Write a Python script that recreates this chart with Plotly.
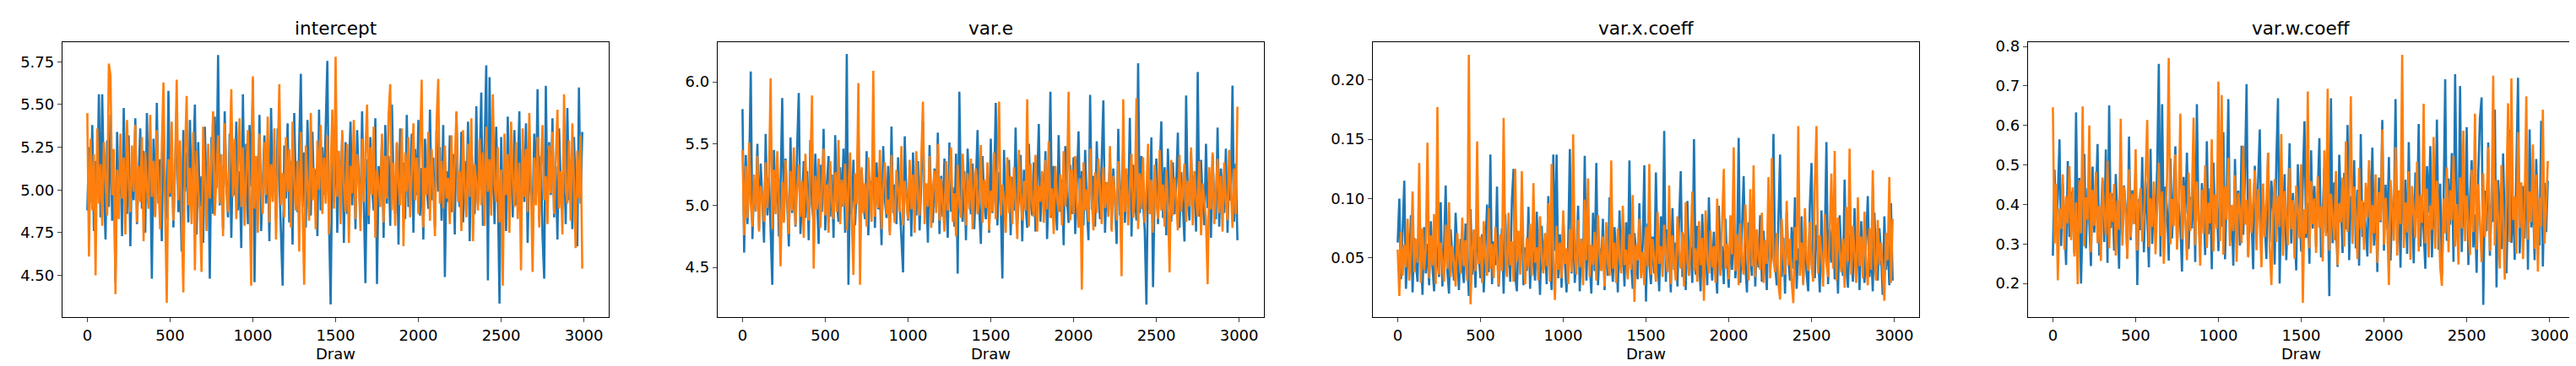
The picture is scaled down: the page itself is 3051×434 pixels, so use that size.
import plotly.graph_objects as go
from plotly.subplots import make_subplots

# thinned draw index (every 10th draw of 3000)
draws = list(range(0, 3000, 10))

params = ["intercept", "var.e", "var.x.coeff", "var.w.coeff"]

# --- intercept ---
intercept_c1 = [
    4.88, 5.25, 4.93, 5.38, 4.76, 5.17, 4.98, 5.56, 4.84, 5.56, 5.04, 4.71, 5.29, 4.90, 5.44, 4.82, 5.13, 4.46, 5.34, 4.95,
    5.21, 4.73, 5.48, 5.00, 4.86, 5.32, 4.67, 5.19, 4.94, 5.42, 4.80, 5.10, 5.36, 4.89, 5.23, 4.75, 5.45, 4.97, 5.15, 4.48,
    5.30, 4.85, 5.51, 4.92, 5.18, 4.70, 5.39, 5.02, 4.83, 5.58, 4.96, 5.26, 4.78, 5.12, 5.47, 4.87, 5.05, 4.64, 5.35, 4.99,
    5.22, 4.81, 5.41, 4.93, 5.16, 5.50, 4.74, 5.28, 4.90, 5.08, 4.69, 5.37, 4.95, 5.20, 4.48, 5.31, 4.86, 5.43, 5.01, 5.79,
    4.91, 5.14, 4.77, 5.46, 5.03, 4.84, 5.33, 4.72, 5.24, 4.97, 5.40, 4.88, 5.11, 4.66, 5.56, 4.94, 5.27, 4.80, 5.38, 5.02,
    5.645, 4.46, 5.19, 4.89, 5.44, 4.76, 5.09, 5.32, 4.92, 5.21, 4.70, 5.48, 4.99, 5.13, 4.83, 5.36, 5.05, 4.74, 4.44, 5.26,
    4.95, 5.39, 4.81, 5.17, 4.68, 5.45, 5.00, 4.87, 5.30, 5.68, 4.90, 5.22, 4.78, 5.41, 5.04, 4.85, 5.34, 4.96, 5.12, 4.73,
    5.47, 4.88, 5.25, 4.97, 5.37, 5.755, 4.82, 4.33, 5.20, 4.93, 5.43, 4.75, 5.15, 4.99, 5.32, 4.69, 5.28, 4.86, 5.10, 5.40,
    4.91, 5.23, 4.77, 5.35, 5.06, 4.84, 5.46, 4.94, 4.455, 5.18, 4.80, 5.31, 5.01, 4.88, 5.42, 4.45, 5.14, 4.96, 5.29, 4.72,
    5.38, 4.92, 5.20, 4.79, 5.50, 5.03, 4.86, 5.27, 4.68, 5.36, 4.98, 5.16, 4.83, 5.44, 4.90, 5.09, 5.33, 4.75, 5.24, 4.97,
    5.41, 4.85, 5.13, 4.71, 5.30, 5.02, 4.89, 5.47, 4.94, 5.19, 4.78, 5.35, 4.99, 5.25, 4.82, 5.38, 4.49, 5.11, 4.93, 5.32,
    4.87, 5.21, 4.74, 5.45, 5.00, 4.90, 5.34, 4.81, 5.17, 4.96, 5.40, 4.70, 5.28, 5.04, 4.86, 5.49, 4.92, 5.15, 5.57, 4.79,
    5.26, 5.73, 4.47, 5.66, 4.95, 5.20, 4.80, 5.37, 5.01, 4.335, 5.31, 4.88, 5.13, 4.76, 5.43, 4.97, 5.22, 4.84, 5.35, 4.91,
    5.09, 5.46, 4.78, 5.24, 4.93, 5.39, 4.69, 5.16, 5.00, 4.86, 5.33, 4.95, 5.59, 4.82, 5.20, 4.73, 4.48, 5.61, 4.90, 5.28,
    4.97, 5.42, 4.84, 5.14, 4.71, 5.36, 5.03, 4.89, 5.25, 4.80, 5.48, 4.94, 5.18, 4.77, 5.31, 5.01, 4.67, 5.60, 4.92, 5.34,
]
intercept_c2 = [
    5.45, 4.61, 5.30, 4.88, 5.21, 4.50, 5.36, 4.92, 5.15, 4.79, 5.28, 5.02, 4.85, 5.74, 5.67, 4.97, 5.24, 4.39, 5.12, 4.83,
    5.33, 4.95, 5.19, 4.74, 5.41, 5.06, 4.87, 5.26, 4.99, 5.38, 4.81, 5.14, 4.93, 5.31, 4.70, 5.22, 5.01, 4.89, 5.44, 4.96,
    5.17, 4.84, 5.35, 5.03, 4.77, 5.25, 5.63, 4.90, 4.34, 5.18, 4.98, 5.40, 4.82, 5.11, 5.645, 4.94, 5.29, 4.86, 4.40, 5.20,
    5.55, 4.91, 5.13, 4.80, 5.34, 4.53, 5.23, 5.00, 4.88, 4.52, 5.37, 5.07, 4.76, 5.27, 4.95, 5.16, 5.46, 4.85, 5.09, 5.32,
    4.92, 5.21, 4.73, 5.39, 5.04, 4.87, 5.18, 5.59, 4.96, 5.30, 4.83, 5.12, 5.42, 4.90, 5.25, 4.79, 5.06, 5.35, 4.98, 4.44,
    5.665, 4.89, 5.20, 4.75, 5.33, 5.02, 4.86, 5.28, 4.97, 5.43, 4.81, 5.15, 4.93, 5.36, 4.71, 5.22, 5.62, 4.91, 5.10, 4.84,
    5.31, 4.99, 5.24, 4.78, 5.40, 5.05, 4.88, 5.17, 4.64, 5.34, 4.95, 4.445, 5.26, 5.01, 4.82, 5.45, 4.94, 5.13, 4.77, 5.29,
    5.00, 5.38, 4.86, 5.19, 4.92, 5.32, 4.74, 5.11, 5.47, 4.89, 5.78, 4.96, 5.23, 4.80, 5.35, 5.03, 4.87, 5.27, 4.69, 5.14,
    4.98, 5.41, 4.83, 5.21, 5.06, 4.76, 5.30, 4.93, 5.18, 5.50, 4.85, 5.25, 4.97, 5.37, 4.72, 5.12, 5.02, 4.90, 5.33, 4.81,
    5.20, 4.95, 5.44, 5.62, 4.88, 5.16, 4.79, 5.28, 5.04, 4.91, 5.36, 4.67, 5.22, 4.99, 5.31, 4.84, 5.10, 5.39, 4.94, 5.19,
    4.86, 5.29, 5.645, 4.78, 5.13, 4.97, 5.34, 4.82, 5.24, 5.01, 4.73, 5.40, 5.65, 4.92, 5.17, 4.89, 5.26, 4.95, 5.07, 4.80,
    5.32, 4.87, 5.20, 5.46, 4.93, 5.11, 4.76, 5.35, 5.00, 4.84, 5.27, 4.96, 5.42, 4.70, 5.15, 5.04, 4.88, 5.30, 4.91, 5.22,
    4.79, 5.37, 4.99, 5.18, 4.85, 5.56, 5.03, 4.93, 5.25, 4.81, 5.12, 4.44, 5.33, 4.97, 5.21, 4.75, 5.40, 5.06, 4.90, 5.28,
    4.83, 5.16, 4.53, 5.36, 4.96, 5.24, 4.87, 5.45, 5.02, 4.52, 5.19, 4.91, 5.31, 4.78, 5.13, 5.38, 4.94, 5.08, 4.80, 5.26,
    4.98, 5.34, 4.86, 5.20, 5.47, 4.89, 5.11, 4.74, 5.56, 5.00, 4.92, 5.29, 4.82, 5.39, 5.05, 4.66, 5.23, 4.95, 5.32, 4.54,
]

# --- var.e ---
var_e_c1 = [
    5.78, 4.62, 5.41, 4.85, 5.27, 6.085, 4.73, 5.19, 4.96, 5.50, 4.81, 5.34, 5.04, 4.70, 5.58, 4.92, 5.23, 4.79, 4.36, 5.45,
    4.98, 5.30, 4.75, 5.16, 5.87, 4.88, 5.38, 5.02, 4.67, 5.55, 4.94, 5.21, 4.83, 5.47, 5.91, 4.77, 5.12, 5.36, 4.90, 5.28,
    4.72, 5.53, 5.00, 4.86, 5.42, 5.08, 4.69, 5.33, 4.95, 5.62, 4.80, 5.18, 5.40, 4.91, 5.25, 4.74, 5.57, 5.03, 4.87, 5.31,
    4.99, 5.46, 4.78, 6.225, 4.36, 5.22, 4.93, 5.37, 4.84, 5.14, 5.60, 4.71, 5.29, 5.01, 4.89, 5.44, 4.76, 5.20, 5.06, 5.52,
    4.82, 5.35, 4.97, 5.11, 4.68, 5.48, 5.05, 4.90, 5.32, 4.79, 5.64, 4.94, 5.17, 4.85, 5.39, 5.00, 4.73, 4.46, 5.56, 5.09,
    4.88, 5.26, 4.75, 5.43, 5.02, 4.92, 5.36, 4.80, 5.19, 5.68, 4.96, 5.13, 4.70, 5.49, 5.04, 4.86, 5.30, 4.98, 5.59, 4.77,
    5.24, 4.91, 5.38, 5.07, 4.74, 5.51, 4.95, 5.15, 4.83, 5.42, 4.45, 5.92, 5.01, 4.87, 5.28, 4.72, 5.46, 5.10, 4.93, 5.34,
    4.81, 5.20, 5.61, 4.97, 4.69, 5.40, 5.03, 4.89, 5.31, 4.78, 5.54, 4.94, 5.16, 5.83, 4.84, 5.27, 5.00, 4.41, 5.45, 4.90,
    5.12, 5.37, 4.76, 5.23, 4.96, 5.63, 4.85, 5.08, 5.41, 4.71, 5.29, 4.99, 4.82, 5.50, 5.05, 4.92, 5.35, 4.79, 5.18, 5.66,
    4.87, 5.26, 4.98, 5.44, 4.73, 5.14, 5.92, 4.90, 5.32, 5.02, 4.80, 5.57, 4.95, 5.21, 4.68, 5.48, 5.06, 4.86, 5.33, 4.93,
    5.39, 4.77, 5.17, 5.60, 4.91, 5.28, 4.84, 5.45, 5.00, 4.72, 5.895, 4.97, 5.24, 4.83, 5.52, 5.09, 4.89, 5.36, 5.85, 4.78,
    5.19, 4.95, 5.42, 4.81, 5.30, 5.04, 4.69, 5.62, 4.92, 5.15, 5.47, 4.86, 5.25, 4.99, 5.71, 4.75, 5.33, 5.07, 4.88, 6.15,
    4.94, 5.40, 5.02, 4.80, 4.20, 5.29, 4.97, 5.55, 4.34, 5.12, 5.38, 4.85, 5.22, 5.68, 4.90, 5.31, 4.76, 5.46, 5.03, 4.87,
    5.35, 4.93, 5.18, 5.59, 4.82, 5.27, 5.00, 4.71, 5.89, 5.08, 4.88, 5.43, 4.96, 5.24, 4.79, 6.08, 4.91, 5.37, 5.05, 4.84,
    5.50, 4.98, 5.21, 4.74, 5.41, 5.01, 4.89, 5.63, 4.83, 5.30, 5.10, 4.94, 5.46, 4.78, 5.26, 5.04, 5.97, 4.87, 5.34, 4.72,
]
var_e_c2 = [
    5.45, 4.76, 5.32, 4.90, 5.51, 5.02, 4.83, 5.25, 4.95, 5.40, 4.79, 5.16, 5.06, 4.87, 5.35, 4.98, 5.22, 6.03, 4.81, 5.29,
    4.93, 5.44, 5.04, 4.51, 5.19, 4.86, 5.37, 5.00, 4.77, 5.28, 4.96, 5.47, 4.84, 5.13, 5.33, 4.91, 5.20, 4.74, 5.42, 5.05,
    4.88, 5.30, 5.89, 4.49, 5.24, 4.97, 5.38, 4.82, 5.11, 5.46, 4.92, 5.17, 4.78, 5.36, 5.03, 4.89, 5.27, 4.95, 5.53, 4.85,
    5.21, 4.99, 5.34, 4.80, 5.14, 5.43, 4.90, 4.44, 5.26, 5.01, 5.99, 4.36, 5.31, 4.94, 5.18, 4.83, 5.39, 5.07, 4.87, 6.09,
    4.91, 5.23, 4.98, 5.45, 4.81, 5.15, 5.35, 4.93, 5.05, 4.76, 5.41, 5.00, 4.86, 5.29, 5.12, 4.95, 5.48, 4.84, 5.20, 5.03,
    4.89, 5.37, 4.97, 5.25, 4.78, 5.44, 5.06, 4.92, 5.32, 5.84, 4.85, 5.18, 4.99, 5.40, 4.82, 5.13, 5.28, 4.94, 5.50, 4.88,
    5.22, 5.02, 4.79, 5.36, 4.96, 5.19, 5.47, 4.87, 5.10, 4.75, 5.33, 5.01, 4.90, 5.42, 5.08, 4.84, 5.26, 4.97, 5.38, 4.81,
    5.15, 5.30, 4.93, 5.04, 5.49, 4.86, 5.21, 4.98, 5.35, 4.80, 5.12, 4.95, 5.43, 4.89, 5.27, 5.84, 4.92, 5.17, 5.05, 4.78,
    5.39, 4.94, 5.24, 4.85, 5.31, 5.00, 4.73, 5.45, 5.09, 4.88, 5.20, 4.96, 5.86, 4.83, 5.34, 5.02, 4.91, 5.41, 4.79, 5.16,
    5.03, 5.28, 4.86, 5.37, 4.97, 5.52, 4.90, 5.14, 4.77, 5.32, 5.06, 4.95, 5.25, 4.84, 5.44, 4.99, 5.18, 5.92, 4.88, 5.29,
    4.93, 5.40, 5.01, 4.82, 5.22, 4.32, 5.35, 4.96, 5.13, 4.87, 5.46, 5.04, 4.80, 5.27, 4.94, 5.38, 5.09, 4.85, 5.31, 4.98,
    5.19, 4.91, 5.48, 4.79, 5.24, 5.02, 4.88, 5.36, 5.11, 4.43, 5.86, 4.95, 5.30, 4.84, 5.15, 5.42, 4.90, 5.07, 5.87, 4.81,
    5.26, 4.97, 5.39, 4.86, 5.12, 5.50, 4.93, 5.21, 4.78, 5.33, 5.04, 4.89, 5.45, 4.96, 5.17, 4.83, 5.29, 5.01, 4.46, 5.37,
    4.92, 5.23, 5.05, 4.80, 5.41, 4.95, 5.14, 5.34, 4.87, 5.20, 4.99, 5.47, 4.84, 5.28, 5.06, 4.91, 5.36, 4.76, 5.18, 5.02,
    4.89, 4.365, 5.31, 4.97, 5.43, 4.85, 5.16, 5.38, 4.94, 5.24, 4.79, 5.35, 5.03, 4.88, 5.45, 5.10, 4.82, 5.30, 4.93, 5.80,
]

# --- var.x.coeff ---
var_x_c1 = [
    0.063, 0.100, 0.032, 0.071, 0.115, 0.024, 0.058, 0.040, 0.086, 0.021, 0.067, 0.045, 0.030, 0.092, 0.053, 0.019, 0.076, 0.037, 0.062, 0.027,
    0.081, 0.043, 0.022, 0.069, 0.050, 0.034, 0.097, 0.026, 0.060, 0.111, 0.039, 0.020, 0.074, 0.048, 0.031, 0.088, 0.055, 0.023, 0.066, 0.042,
    0.029, 0.079, 0.047, 0.018, 0.091, 0.036, 0.061, 0.025, 0.083, 0.051, 0.033, 0.070, 0.021, 0.057, 0.095, 0.038, 0.137, 0.028, 0.064, 0.044,
    0.110, 0.026, 0.052, 0.075, 0.020, 0.087, 0.041, 0.063, 0.030, 0.099, 0.125, 0.035, 0.022, 0.068, 0.049, 0.084, 0.027, 0.059, 0.039, 0.093,
    0.024, 0.072, 0.046, 0.031, 0.089, 0.054, 0.019, 0.077, 0.040, 0.065, 0.028, 0.102, 0.043, 0.023, 0.137, 0.056, 0.137, 0.033, 0.070, 0.025,
    0.085, 0.047, 0.021, 0.062, 0.1417, 0.037, 0.078, 0.029, 0.053, 0.094, 0.022, 0.066, 0.041, 0.136, 0.031, 0.073, 0.050, 0.020, 0.088, 0.039,
    0.130, 0.027, 0.058, 0.044, 0.083, 0.023, 0.069, 0.035, 0.101, 0.048, 0.030, 0.076, 0.052, 0.021, 0.090, 0.042, 0.064, 0.026, 0.080, 0.036,
    0.132, 0.045, 0.024, 0.071, 0.057, 0.032, 0.096, 0.039, 0.061, 0.128, 0.0133, 0.079, 0.046, 0.028, 0.068, 0.037, 0.122, 0.051, 0.022, 0.085,
    0.043, 0.157, 0.030, 0.074, 0.055, 0.021, 0.092, 0.040, 0.063, 0.026, 0.081, 0.123, 0.034, 0.070, 0.023, 0.098, 0.044, 0.059, 0.029, 0.150,
    0.036, 0.077, 0.050, 0.022, 0.087, 0.041, 0.066, 0.027, 0.101, 0.053, 0.031, 0.072, 0.045, 0.020, 0.094, 0.038, 0.060, 0.028, 0.083, 0.047,
    0.025, 0.069, 0.040, 0.091, 0.033, 0.056, 0.151, 0.029, 0.075, 0.119, 0.044, 0.021, 0.080, 0.052, 0.035, 0.097, 0.026, 0.064, 0.042, 0.086,
    0.030, 0.073, 0.049, 0.023, 0.093, 0.038, 0.061, 0.1545, 0.045, 0.027, 0.082, 0.137, 0.034, 0.067, 0.020, 0.089, 0.050, 0.031, 0.076, 0.041,
    0.101, 0.024, 0.058, 0.044, 0.085, 0.029, 0.071, 0.037, 0.022, 0.095, 0.130, 0.048, 0.033, 0.078, 0.054, 0.021, 0.090, 0.039, 0.063, 0.1475,
    0.028, 0.074, 0.046, 0.099, 0.032, 0.060, 0.020, 0.086, 0.051, 0.035, 0.116, 0.042, 0.025, 0.070, 0.055, 0.030, 0.092, 0.038, 0.066, 0.023,
    0.081, 0.047, 0.029, 0.073, 0.102, 0.034, 0.058, 0.022, 0.088, 0.043, 0.031, 0.075, 0.053, 0.019, 0.085, 0.040, 0.064, 0.027, 0.096, 0.031,
]
var_x_c2 = [
    0.057, 0.018, 0.072, 0.035, 0.061, 0.042, 0.083, 0.031, 0.054, 0.106, 0.038, 0.066, 0.046, 0.130, 0.029, 0.075, 0.040, 0.058, 0.147, 0.033,
    0.069, 0.044, 0.087, 0.028, 0.177, 0.036, 0.063, 0.049, 0.030, 0.078, 0.041, 0.097, 0.034, 0.060, 0.047, 0.026, 0.071, 0.052, 0.037, 0.084,
    0.043, 0.065, 0.031, 0.221, 0.011, 0.056, 0.074, 0.039, 0.148, 0.045, 0.068, 0.029, 0.081, 0.050, 0.035, 0.092, 0.041, 0.062, 0.033, 0.076,
    0.048, 0.027, 0.070, 0.039, 0.168, 0.055, 0.034, 0.088, 0.044, 0.064, 0.030, 0.125, 0.047, 0.073, 0.036, 0.123, 0.053, 0.028, 0.067, 0.042,
    0.079, 0.035, 0.113, 0.046, 0.059, 0.031, 0.085, 0.050, 0.037, 0.071, 0.043, 0.096, 0.030, 0.129, 0.049, 0.0146, 0.077, 0.040, 0.063, 0.033,
    0.090, 0.045, 0.058, 0.028, 0.074, 0.038, 0.154, 0.051, 0.036, 0.082, 0.042, 0.066, 0.027, 0.099, 0.048, 0.117, 0.034, 0.061, 0.044, 0.072,
    0.031, 0.086, 0.053, 0.039, 0.068, 0.026, 0.080, 0.046, 0.035, 0.132, 0.041, 0.063, 0.029, 0.075, 0.050, 0.037, 0.094, 0.044, 0.057, 0.032,
    0.070, 0.040, 0.103, 0.013, 0.061, 0.048, 0.083, 0.033, 0.055, 0.027, 0.076, 0.043, 0.129, 0.036, 0.066, 0.049, 0.030, 0.089, 0.045, 0.060,
    0.034, 0.078, 0.052, 0.038, 0.111, 0.028, 0.069, 0.046, 0.031, 0.085, 0.054, 0.041, 0.072, 0.026, 0.097, 0.047, 0.035, 0.064, 0.106, 0.039,
    0.058, 0.030, 0.081, 0.044, 0.067, 0.014, 0.090, 0.050, 0.037, 0.073, 0.042, 0.060, 0.029, 0.100, 0.048, 0.035, 0.077, 0.125, 0.041, 0.062,
    0.032, 0.086, 0.053, 0.143, 0.039, 0.070, 0.027, 0.079, 0.047, 0.036, 0.095, 0.056, 0.031, 0.108, 0.043, 0.128, 0.034, 0.074, 0.051, 0.040,
    0.088, 0.029, 0.065, 0.045, 0.118, 0.033, 0.134, 0.049, 0.038, 0.071, 0.028, 0.015, 0.083, 0.054, 0.036, 0.098, 0.044, 0.066, 0.030, 0.012,
    0.076, 0.048, 0.161, 0.035, 0.063, 0.027, 0.092, 0.050, 0.039, 0.080, 0.044, 0.030, 0.112, 0.161, 0.037, 0.069, 0.053, 0.026, 0.087, 0.045,
    0.034, 0.073, 0.121, 0.041, 0.140, 0.031, 0.084, 0.055, 0.038, 0.066, 0.025, 0.093, 0.047, 0.142, 0.036, 0.077, 0.052, 0.029, 0.101, 0.043,
    0.068, 0.033, 0.089, 0.046, 0.027, 0.075, 0.040, 0.124, 0.052, 0.031, 0.082, 0.044, 0.063, 0.036, 0.014, 0.071, 0.048, 0.118, 0.029, 0.083,
]

# --- var.w.coeff ---
var_w_c1 = [
    0.270, 0.488, 0.336, 0.421, 0.565, 0.295, 0.452, 0.361, 0.247, 0.510, 0.318, 0.433, 0.380, 0.276, 0.633, 0.345, 0.467, 0.200, 0.402, 0.528,
    0.289, 0.441, 0.357, 0.244, 0.496, 0.329, 0.415, 0.553, 0.271, 0.386, 0.462, 0.305, 0.539, 0.252, 0.651, 0.340, 0.428, 0.283, 0.477, 0.366,
    0.237, 0.504, 0.322, 0.448, 0.391, 0.264, 0.572, 0.310, 0.436, 0.352, 0.487, 0.196, 0.414, 0.335, 0.520, 0.279, 0.459, 0.373, 0.241, 0.541,
    0.300, 0.425, 0.358, 0.493, 0.756, 0.268, 0.654, 0.331, 0.445, 0.386, 0.258, 0.517, 0.314, 0.433, 0.547, 0.290, 0.403, 0.347, 0.230, 0.470,
    0.376, 0.531, 0.287, 0.419, 0.339, 0.482, 0.254, 0.654, 0.362, 0.297, 0.454, 0.398, 0.272, 0.560, 0.325, 0.441, 0.236, 0.506, 0.351, 0.412,
    0.282, 0.473, 0.344, 0.583, 0.261, 0.427, 0.667, 0.309, 0.390, 0.245, 0.515, 0.356, 0.435, 0.296, 0.549, 0.323, 0.466, 0.705, 0.270, 0.408,
    0.368, 0.236, 0.498, 0.333, 0.445, 0.590, 0.284, 0.419, 0.350, 0.262, 0.531, 0.305, 0.460, 0.387, 0.248, 0.513, 0.669, 0.200, 0.438, 0.320,
    0.477, 0.259, 0.394, 0.555, 0.301, 0.429, 0.346, 0.233, 0.502, 0.370, 0.281, 0.462, 0.611, 0.315, 0.404, 0.250, 0.537, 0.339, 0.447, 0.292,
    0.415, 0.568, 0.266, 0.381, 0.494, 0.328, 0.443, 0.168, 0.669, 0.302, 0.456, 0.353, 0.242, 0.526, 0.394, 0.277, 0.480, 0.337, 0.601, 0.259,
    0.421, 0.360, 0.512, 0.289, 0.437, 0.245, 0.578, 0.318, 0.405, 0.343, 0.268, 0.490, 0.374, 0.544, 0.296, 0.431, 0.229, 0.468, 0.355, 0.614,
    0.283, 0.450, 0.337, 0.520, 0.258, 0.402, 0.364, 0.667, 0.299, 0.427, 0.240, 0.509, 0.348, 0.463, 0.275, 0.558, 0.322, 0.396, 0.251, 0.481,
    0.367, 0.604, 0.293, 0.424, 0.334, 0.237, 0.497, 0.379, 0.548, 0.266, 0.412, 0.340, 0.615, 0.285, 0.453, 0.221, 0.390, 0.717, 0.308, 0.466,
    0.349, 0.530, 0.255, 0.730, 0.394, 0.318, 0.700, 0.280, 0.441, 0.363, 0.596, 0.247, 0.418, 0.512, 0.291, 0.375, 0.227, 0.478, 0.620, 0.671,
    0.146, 0.435, 0.332, 0.557, 0.270, 0.403, 0.356, 0.640, 0.190, 0.462, 0.381, 0.287, 0.529, 0.338, 0.226, 0.447, 0.590, 0.303, 0.414, 0.260,
    0.498, 0.721, 0.276, 0.383, 0.447, 0.314, 0.562, 0.235, 0.590, 0.342, 0.428, 0.259, 0.515, 0.369, 0.296, 0.612, 0.243, 0.455, 0.330, 0.460,
]
var_w_c2 = [
    0.646, 0.301, 0.452, 0.208, 0.389, 0.338, 0.476, 0.285, 0.421, 0.352, 0.497, 0.310, 0.443, 0.268, 0.405, 0.198, 0.461, 0.327, 0.648, 0.294,
    0.418, 0.361, 0.600, 0.279, 0.437, 0.346, 0.483, 0.302, 0.396, 0.257, 0.468, 0.374, 0.322, 0.511, 0.289, 0.430, 0.355, 0.452, 0.271, 0.409,
    0.336, 0.617, 0.296, 0.445, 0.378, 0.262, 0.489, 0.317, 0.427, 0.350, 0.540, 0.283, 0.402, 0.441, 0.306, 0.366, 0.471, 0.614, 0.292, 0.416,
    0.343, 0.458, 0.274, 0.396, 0.505, 0.320, 0.433, 0.250, 0.382, 0.470, 0.771, 0.299, 0.414, 0.345, 0.527, 0.286, 0.393, 0.630, 0.312, 0.448,
    0.365, 0.259, 0.481, 0.333, 0.420, 0.620, 0.297, 0.458, 0.371, 0.245, 0.437, 0.326, 0.499, 0.290, 0.404, 0.352, 0.565, 0.281, 0.426, 0.339,
    0.711, 0.307, 0.677, 0.273, 0.446, 0.361, 0.518, 0.295, 0.399, 0.333, 0.474, 0.255, 0.428, 0.385, 0.302, 0.549, 0.349, 0.412, 0.266, 0.465,
    0.328, 0.395, 0.487, 0.284, 0.439, 0.357, 0.241, 0.453, 0.318, 0.406, 0.531, 0.292, 0.196, 0.376, 0.464, 0.305, 0.421, 0.343, 0.578, 0.270,
    0.434, 0.368, 0.297, 0.492, 0.337, 0.411, 0.263, 0.448, 0.379, 0.314, 0.502, 0.151, 0.388, 0.326, 0.686, 0.289, 0.459, 0.350, 0.415, 0.277,
    0.472, 0.341, 0.395, 0.256, 0.537, 0.320, 0.693, 0.283, 0.427, 0.362, 0.309, 0.485, 0.246, 0.403, 0.354, 0.468, 0.293, 0.560, 0.331, 0.419,
    0.674, 0.300, 0.445, 0.372, 0.262, 0.493, 0.338, 0.410, 0.285, 0.455, 0.367, 0.512, 0.276, 0.398, 0.327, 0.476, 0.252, 0.431, 0.359, 0.590,
    0.298, 0.417, 0.346, 0.196, 0.462, 0.383, 0.308, 0.545, 0.271, 0.436, 0.350, 0.779, 0.290, 0.405, 0.329, 0.484, 0.260, 0.447, 0.373, 0.315,
    0.508, 0.281, 0.424, 0.353, 0.655, 0.301, 0.440, 0.266, 0.397, 0.336, 0.571, 0.288, 0.460, 0.369, 0.242, 0.194, 0.415, 0.327, 0.494, 0.279,
    0.436, 0.360, 0.523, 0.293, 0.401, 0.248, 0.469, 0.339, 0.587, 0.307, 0.423, 0.357, 0.272, 0.488, 0.330, 0.630, 0.286, 0.451, 0.365, 0.254,
    0.479, 0.318, 0.409, 0.545, 0.282, 0.392, 0.726, 0.296, 0.462, 0.347, 0.238, 0.500, 0.334, 0.210, 0.438, 0.656, 0.305, 0.719, 0.361, 0.420,
    0.275, 0.583, 0.340, 0.456, 0.262, 0.398, 0.674, 0.311, 0.433, 0.355, 0.552, 0.288, 0.475, 0.230, 0.417, 0.344, 0.640, 0.301, 0.392, 0.510,
]

x_ticks = [0, 500, 1000, 1500, 2000, 2500, 3000]
y_ticks = [
    [4.50, 4.75, 5.00, 5.25, 5.50, 5.75],
    [4.5, 5.0, 5.5, 6.0],
    [0.05, 0.10, 0.15, 0.20],
    [0.2, 0.3, 0.4, 0.5, 0.6, 0.7, 0.8],
]
y_fmt = [".2f", ".1f", ".2f", ".1f"]
y_ranges = [[4.256, 5.863], [4.099, 6.318], [0.0003, 0.2313], [0.115, 0.81]]

chains = [
    (intercept_c1, intercept_c2),
    (var_e_c1, var_e_c2),
    (var_x_c1, var_x_c2),
    (var_w_c1, var_w_c2),
]

W, H = 3051, 434
FONT = "DejaVu Sans"

fig = make_subplots(rows=1, cols=4)

for i, (c1, c2) in enumerate(chains):
    fig.add_trace(go.Scatter(x=draws, y=c1, mode="lines",
                             line=dict(color="#1f77b4", width=2.6)), row=1, col=i + 1)
    fig.add_trace(go.Scatter(x=draws, y=c2, mode="lines",
                             line=dict(color="#ff7f0e", width=2.6)), row=1, col=i + 1)

# panel boxes in pixels, like matplotlib's layout
for i in range(4):
    left = 66 + 776 * i
    right = left + 647
    xa = "xaxis" if i == 0 else f"xaxis{i + 1}"
    ya = "yaxis" if i == 0 else f"yaxis{i + 1}"
    fig.layout[xa].update(
        domain=[left / W, right / W], range=[-150, 3150],
        tickvals=x_ticks, ticks="outside", ticklen=5, tickwidth=1.2,
        showline=True, linecolor="black", linewidth=1.3, mirror=True,
        showgrid=False, zeroline=False,
        tickfont=dict(family=FONT, size=18, color="black"),
    )
    fig.layout[ya].update(
        domain=[1 - 367 / H, 1 - 37 / H], range=y_ranges[i],
        tickvals=y_ticks[i], tickformat=y_fmt[i],
        ticks="outside", ticklen=5, tickwidth=1.2,
        showline=True, linecolor="black", linewidth=1.3, mirror=True,
        showgrid=False, zeroline=False,
        tickfont=dict(family=FONT, size=18, color="black"),
    )
    cx = (left + right) / 2 / W
    fig.add_annotation(text=params[i], x=cx, y=1 - 20 / H, xref="paper", yref="paper",
                       showarrow=False, xanchor="center", yanchor="middle",
                       font=dict(family=FONT, size=21.6, color="black"))
    fig.add_annotation(text="Draw", x=cx, y=1 - 411 / H, xref="paper", yref="paper",
                       showarrow=False, xanchor="center", yanchor="middle",
                       font=dict(family=FONT, size=18, color="black"))

fig.update_layout(
    width=W, height=H,
    margin=dict(l=0, r=0, t=0, b=0),
    paper_bgcolor="white", plot_bgcolor="white",
    showlegend=False,
    font=dict(family=FONT, color="black"),
)

fig.write_html("out.html")
